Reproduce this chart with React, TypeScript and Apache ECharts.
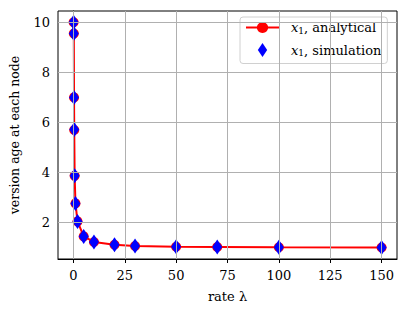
import React, { useEffect, useRef } from "react";
import * as echarts from "echarts";

const rates = [0.1, 0.2, 0.3, 0.4, 0.6, 1, 2, 5, 10, 20, 30, 50, 70, 100, 150];
const analytical = [10.0, 9.55, 7.0, 5.7, 3.87, 2.77, 2.05, 1.45, 1.23, 1.12, 1.07, 1.04, 1.03, 1.02, 1.01];
const simulation = [10.0, 9.55, 7.0, 5.72, 3.87, 2.77, 2.05, 1.45, 1.23, 1.12, 1.07, 1.04, 1.03, 1.02, 1.01];
const xTicks = [0, 25, 50, 75, 100, 125, 150];
const yTicks = [2, 4, 6, 8, 10];

const FONT = "'DejaVu Serif', 'Liberation Serif', serif";

export default function App() {
  const ref = useRef<HTMLDivElement>(null);
  useEffect(() => {
    if (!ref.current) return;
    const chart = echarts.init(ref.current, null, { renderer: "svg" });
    const gridLines = [
      ...xTicks.map((v) => ({ xAxis: v })),
      ...yTicks.map((v) => ({ yAxis: v })),
    ];
    chart.setOption({
      animation: false,
      backgroundColor: "#fff",
      grid: {
        left: 57,
        right: 11,
        top: 11,
        bottom: 55,
        show: true,
        borderColor: "#000",
        borderWidth: 1,
        backgroundColor: "transparent",
      },
      xAxis: {
        type: "value",
        min: -7.5,
        max: 157.5,
        name: "rate λ",
        nameLocation: "middle",
        nameGap: 31,
        nameTextStyle: { fontFamily: FONT, fontSize: 13, color: "#000" },
        axisLine: { show: true, lineStyle: { color: "#000", width: 1 } },
        axisTick: { show: true, length: 4, customValues: xTicks, lineStyle: { color: "#000" } },
        axisLabel: { customValues: xTicks, fontFamily: FONT, fontSize: 13, color: "#000", margin: 10 },
        splitLine: { show: false },
      },
      yAxis: {
        type: "value",
        min: 0.55,
        max: 10.45,
        name: "version age at each node",
        nameLocation: "middle",
        nameGap: 37,
        nameTextStyle: { fontFamily: FONT, fontSize: 12.5, color: "#000" },
        axisLine: { show: true, lineStyle: { color: "#000", width: 1 } },
        axisTick: { show: true, length: 4, customValues: yTicks, lineStyle: { color: "#000" } },
        axisLabel: { customValues: yTicks, fontFamily: FONT, fontSize: 13, color: "#000", margin: 8 },
        splitLine: { show: false },
      },
      legend: {
        show: true,
        left: 240,
        top: 17,
        orient: "vertical",
        backgroundColor: "rgba(255,255,255,0.85)",
        borderColor: "#d0d0d0",
        borderWidth: 1,
        borderRadius: 3,
        padding: [4, 6, 6, 5],
        itemGap: 8,
        itemWidth: 33,
        itemHeight: 14,
        data: [
          { name: "analytical" },
          { name: "simulation", icon: "path://M5,0L10,7.5L5,15L0,7.5Z", itemStyle: { color: "#0000ff", opacity: 1 } },
        ],
        formatter: (name: string) => `{i|x}{s|1}{t|, ${name}}`,
        textStyle: {
          fontFamily: FONT,
          fontSize: 13,
          color: "#000",
          padding: [0, 0, 0, 7],
          rich: {
            i: { fontFamily: FONT, fontStyle: "italic", fontSize: 13, color: "#000" },
            s: { fontFamily: FONT, fontSize: 9, color: "#000", verticalAlign: "bottom", padding: [6, 0, 0, 0] },
            t: { fontFamily: FONT, fontSize: 13, color: "#000" },
          },
        },
      },
      series: [
        {
          name: "grid",
          type: "line",
          data: [],
          silent: true,
          z: 0,
          markLine: {
            silent: true,
            symbol: ["none", "none"],
            label: { show: false },
            lineStyle: { color: "#b0b0b0", width: 1, type: "solid" },
            data: gridLines,
            animation: false,
          },
        },
        {
          name: "analytical",
          type: "line",
          data: rates.map((r, i) => [r, analytical[i]]),
          symbol: "circle",
          symbolSize: 10,
          showSymbol: true,
          lineStyle: { color: "#ff0000", width: 2 },
          itemStyle: { color: "#ff0000" },
          z: 3,
        },
        {
          name: "simulation",
          type: "scatter",
          data: rates.map((r, i) => [r, simulation[i]]),
          symbol: "diamond",
          symbolSize: [10, 15],
          itemStyle: { color: "#0000ff", opacity: 1 },
          z: 4,
        },
      ],
    });
    return () => chart.dispose();
  }, []);
  return <div ref={ref} style={{ width: 408, height: 314, position: "absolute", left: 0, top: 0 }} />;
}
